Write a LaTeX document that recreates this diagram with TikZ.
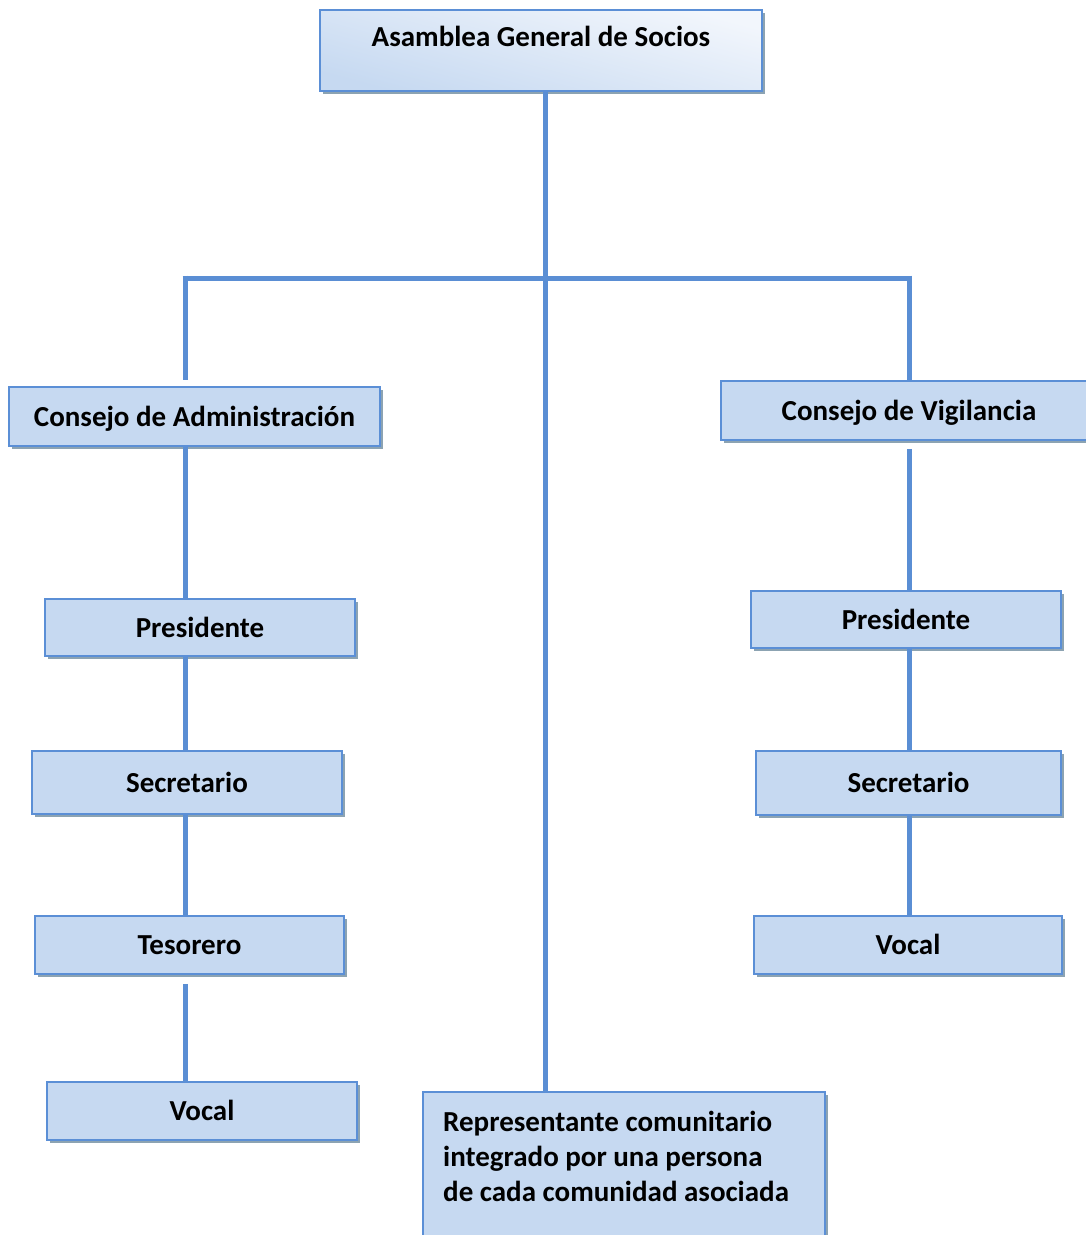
\documentclass[tikz,border=0pt]{standalone}
\usepackage{fontspec}
\setmainfont{Carlito}
\usepackage{tikz}
\usetikzlibrary{shadows}
\definecolor{boxfill}{HTML}{C6D9F1}
\definecolor{topfill}{HTML}{F2F6FC}
\definecolor{boxline}{HTML}{5B8FD6}
\definecolor{connline}{HTML}{5A8ED4}
\definecolor{shadowc}{HTML}{8CA3B2}
\tikzset{
  orgbox/.style={draw=boxline, line width=1.8pt, fill=boxfill,
    font=\bfseries\fontsize{29}{35}\selectfont,
    text height=19pt, text depth=0pt,
    drop shadow={shadow xshift=3pt, shadow yshift=-3pt, fill=shadowc, opacity=1}},
  conn/.style={draw=connline, line width=5pt}
}

\begin{document}
\begin{tikzpicture}[x=1pt, y=-1pt]
                \useasboundingbox (0,0) rectangle (1086,1235);
                \node (asamblea) [orgbox, top color=topfill, bottom color=boxfill, shading angle=-15,
                    minimum width=442, inner ysep=0pt, text height=37pt, text depth=44pt] at (541,9) [anchor=north] {Asamblea General de Socios};
                \node (admin) [orgbox, minimum width=371, minimum height=59] at (194.5,416.5) {Consejo de Administración};
                \node (vigil) [orgbox, minimum width=376, minimum height=59] at (909,410.5) {Consejo de Vigilancia};
                \node (pres1) [orgbox, minimum width=310, minimum height=57] at (200,627.5) {Presidente};
                \node (sec1) [orgbox, minimum width=310, minimum height=63] at (187,782.5) {Secretario};
                \node (tes1) [orgbox, minimum width=309, minimum height=58] at (189.5,945) {Tesorero};
                \node (vocal1) [orgbox, minimum width=310, minimum height=58] at (202,1111) {Vocal};
                \node (pres2) [orgbox, minimum width=310, minimum height=57] at (906,619.5) {Presidente};
                \node (sec2) [orgbox, minimum width=305, minimum height=64] at (908.5,783) {Secretario};
                \node (vocal2) [orgbox, minimum width=308, minimum height=58] at (908,945) {Vocal};
                \node (repr) [orgbox, anchor=north west, minimum width=402, minimum height=150] at (422,1091) {};
                \node (reprtext) [anchor=north west, align=left, inner sep=0pt,
                    font=\bfseries\fontsize{29}{35}\selectfont] at (443,1111)
                    {Representante comunitario\\integrado por una persona\\de cada comunidad asociada};
                \coordinate (junc) at (545,278);
                \coordinate (jl) at (185,278);
                \coordinate (jr) at (909,278);
                \draw [conn] (asamblea.south -| junc) -- (junc);
                \draw [conn] ([xshift=-2.5pt]jl) -- ([xshift=2.5pt]jr);
                \draw [conn, shorten >=6pt] ([yshift=2.5pt]jl) -- (admin.north -| jl);
                \draw [conn] ([yshift=2.5pt]jr) -- (vigil.north -| jr);
                \draw [conn] (junc) -- (repr.north -| junc);
                \draw [conn] (admin.south -| jl) -- (pres1.north -| jl);
                \draw [conn] (pres1.south -| jl) -- (sec1.north -| jl);
                \draw [conn] (sec1.south -| jl) -- (tes1.north -| jl);
                \draw [conn, shorten <=9pt] (tes1.south -| jl) -- (vocal1.north -| jl);
                \draw [conn, shorten <=8pt] (vigil.south -| jr) -- (pres2.north -| jr);
                \draw [conn] (pres2.south -| jr) -- (sec2.north -| jr);
                \draw [conn] (sec2.south -| jr) -- (vocal2.north -| jr);
            \end{tikzpicture}
\end{document}
